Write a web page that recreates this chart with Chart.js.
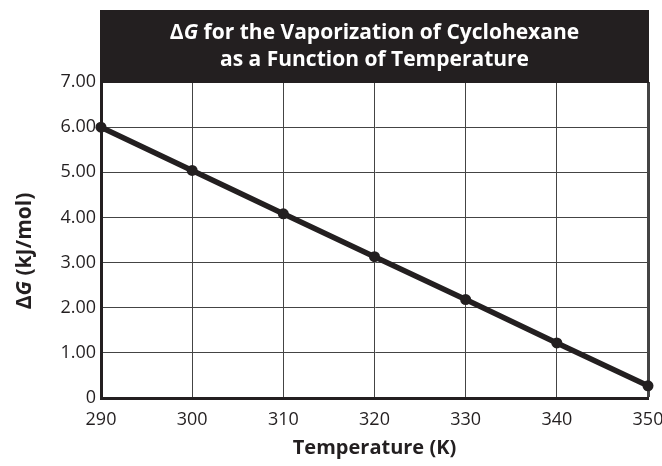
<!DOCTYPE html>
<html>
<head>
<meta charset="utf-8">
<script src="https://cdn.jsdelivr.net/npm/chart.js@4/dist/chart.umd.min.js"></script>
<style>
  html, body { margin: 0; padding: 0; background: #fff; }
  #wrap { width: 662px; height: 466px; }
</style>
</head>
<body>
<div id="wrap"><canvas id="c" width="662" height="466"></canvas></div>
<script>
// Temperature (K) and free energy of vaporization (kJ/mol)
const temperatures = [290, 300, 310, 320, 330, 340, 350];
const deltaG = [6.00, 5.04, 4.08, 3.13, 2.18, 1.22, 0.27];
const titleLines = ['for the Vaporization of Cyclohexane', 'as a Function of Temperature'];
const xTitle = 'Temperature (K)';
const yTitleTail = ' (kJ/mol)';

const INK = '#231f20';
const FONT = '"Open Sans", "Noto Sans", sans-serif';

// draw a sequence of differently styled text runs centred on (cx, cy)
function drawRuns(ctx, runs, cx, cy) {
  let total = 0;
  runs.forEach(r => { ctx.font = r.font; r.w = ctx.measureText(r.text).width; total += r.w; });
  let x = cx - total / 2;
  ctx.textBaseline = 'middle';
  ctx.textAlign = 'left';
  runs.forEach(r => { ctx.font = r.font; ctx.fillText(r.text, x, cy); x += r.w; });
}

const decorations = {
  id: 'decorations',
  afterDraw(chart) {
    const { ctx, chartArea: a } = chart;
    ctx.save();
    // black title banner above the plot
    ctx.fillStyle = INK;
    ctx.fillRect(a.left - 1, 10, a.right - a.left + 2, a.top - 10 + 1);
    ctx.fillStyle = '#fff';
    const cx = (a.left + a.right) / 2;
    const b = 'bold 21px ' + FONT;
    drawRuns(ctx, [
      { text: 'Δ', font: b },
      { text: 'G', font: 'italic bold 21px ' + FONT },
      { text: ' ' + titleLines[0], font: b }
    ], cx, 33);
    drawRuns(ctx, [{ text: titleLines[1], font: b }], cx, 60);

    // rotated y-axis title
    const yb = 'bold 21px ' + FONT;
    ctx.fillStyle = INK;
    ctx.translate(25, 251);
    ctx.rotate(-Math.PI / 2);
    drawRuns(ctx, [
      { text: 'Δ', font: yb },
      { text: 'G', font: 'italic bold 21px ' + FONT },
      { text: yTitleTail, font: yb }
    ], 0, 0);
    ctx.restore();
  }
};

new Chart(document.getElementById('c'), {
  type: 'line',
  data: {
    datasets: [{
      data: temperatures.map((t, i) => ({ x: t, y: deltaG[i] })),
      borderColor: INK,
      backgroundColor: INK,
      borderWidth: 5.5,
      pointRadius: 5.5,
      pointHoverRadius: 5.5,
      pointBackgroundColor: INK,
      pointBorderWidth: 0,
      tension: 0,
      clip: false
    }]
  },
  options: {
    responsive: false,
    animation: false,
    events: [],
    layout: { padding: { top: 82, bottom: 0, left: 0, right: 14 } },
    plugins: { legend: { display: false }, tooltip: { enabled: false }, title: { display: false } },
    scales: {
      x: {
        type: 'linear',
        min: 290, max: 350,
        ticks: { stepSize: 10, color: INK, font: { family: FONT, size: 18 }, padding: 11 },
        grid: {
          color: '#444',
          lineWidth: c => (c.tick && c.tick.value === 350 ? 3 : 1),
          drawTicks: false
        },
        border: { color: INK, width: 3 },
        title: {
          display: true, text: xTitle, color: INK,
          font: { family: FONT, size: 20, weight: 'bold' }, padding: { top: 0, bottom: 6 }
        },
        afterFit: s => { s.height = 68; s.paddingLeft = 0; s.paddingRight = 0; }
      },
      y: {
        min: 0, max: 7,
        ticks: {
          stepSize: 1, color: INK, font: { family: FONT, size: 18 }, padding: 5,
          callback: v => (v === 0 ? '0' : v.toFixed(2))
        },
        grid: { color: '#444', lineWidth: 1, drawTicks: false },
        border: { color: INK, width: 3 },
        afterFit: s => { s.width = 101; }
      }
    }
  },
  plugins: [decorations]
});
</script>
</body>
</html>
